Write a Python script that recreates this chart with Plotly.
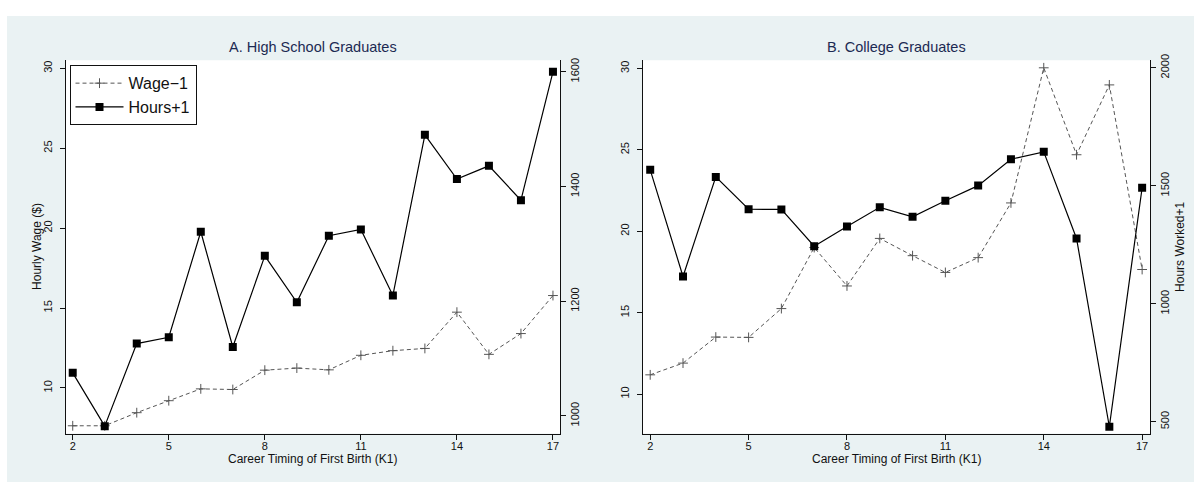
import plotly.graph_objects as go

W, H = 1194, 482

timing = [2, 3, 4, 5, 6, 7, 8, 9, 10, 11, 12, 13, 14, 15, 16, 17]

hs_wage = [7.63, 7.63, 8.45, 9.2, 9.94, 9.9, 11.11, 11.24, 11.13, 12.04, 12.33, 12.47, 14.74, 12.1, 13.4, 15.78]
hs_hours = [1075, 982, 1126, 1137, 1321, 1120, 1279, 1198, 1314, 1325, 1210, 1490, 1413, 1436, 1376, 1600]

col_wage = [11.18, 11.9, 13.5, 13.48, 15.25, 19.0, 16.64, 19.56, 18.5, 17.47, 18.38, 21.74, 30.04, 24.7, 28.99, 17.65]
col_hours = [1568, 1116, 1538, 1401, 1400, 1244, 1328, 1409, 1369, 1437, 1501, 1613, 1644, 1277, 479, 1492]

x_ticks = [2, 5, 8, 11, 14, 17]
wage_ticks = [10, 15, 20, 25, 30]
hs_hours_ticks = [1000, 1200, 1400, 1600]
col_hours_ticks = [500, 1000, 1500, 2000]

FONT = "Liberation Sans, Arial, sans-serif"
BG = "#EAF2F3"
TITLE_C = "#1C2A52"
WAGE_C = "#555555"


def px(x):
    return x / W


def py(y):
    return 1 - y / H


L1, R1 = 66, 560
L2, R2 = 643, 1150
TOP, BOT = 55, 433

fig = go.Figure()

wage_line = dict(color=WAGE_C, width=1, dash="4px,3px")
wage_marker = dict(symbol="cross-thin", size=7, line=dict(color=WAGE_C, width=1), color=WAGE_C)
hours_line = dict(color="black", width=1.2)
hours_marker = dict(symbol="square", size=8, color="black")

fig.add_trace(go.Scatter(x=timing, y=hs_wage, mode="lines+markers", name="Wage\u22121",
                         line=wage_line, marker=wage_marker, xaxis="x", yaxis="y", showlegend=True))
fig.add_trace(go.Scatter(x=timing, y=hs_hours, mode="lines+markers", name="Hours+1",
                         line=hours_line, marker=hours_marker, xaxis="x", yaxis="y2", showlegend=True))
fig.add_trace(go.Scatter(x=timing, y=col_wage, mode="lines+markers", name="Wage\u22121",
                         line=wage_line, marker=wage_marker, xaxis="x2", yaxis="y3", showlegend=False))
fig.add_trace(go.Scatter(x=timing, y=col_hours, mode="lines+markers", name="Hours+1",
                         line=hours_line, marker=hours_marker, xaxis="x2", yaxis="y4", showlegend=False))

axis_common = dict(showline=True, linecolor="#111", linewidth=1, ticks="outside", ticklen=5,
                   tickcolor="#111", tickwidth=1, showgrid=False, zeroline=False,
                   tickfont=dict(family=FONT, size=11, color="#111"), fixedrange=True)
xax = dict(axis_common, ticklabelstandoff=-3)
yax_l = dict(axis_common, ticklabelstandoff=4)
yax_r = dict(axis_common, ticklabelstandoff=0)

ydom = [py(BOT), py(TOP)]

fig.update_layout(
    width=W, height=H,
    margin=dict(l=0, r=0, t=0, b=0),
    paper_bgcolor="white",
    plot_bgcolor="white",
    font=dict(family=FONT, color="#111"),
    xaxis=dict(domain=[px(L1), px(R1)], range=[1.79, 17.22], tickvals=x_ticks, anchor="y", **xax),
    yaxis=dict(domain=ydom, range=[7.14, 30.5], tickvals=wage_ticks, tickangle=-90, anchor="x", **yax_l),
    yaxis2=dict(range=[969, 1620], tickvals=hs_hours_ticks, tickangle=-90, overlaying="y", side="right",
                anchor="x", **yax_r),
    xaxis2=dict(domain=[px(L2), px(R2)], range=[1.78, 17.24], tickvals=x_ticks, anchor="y3", **xax),
    yaxis3=dict(domain=ydom, range=[7.57, 30.5], tickvals=wage_ticks, tickangle=-90, anchor="x2", **yax_l),
    yaxis4=dict(range=[450, 2032], tickvals=col_hours_ticks, tickangle=-90, overlaying="y3", side="right",
                anchor="x2", **yax_r),
    legend=dict(x=px(69.5), y=py(60), xanchor="left", yanchor="top", bgcolor="white",
                bordercolor="#111", borderwidth=1, font=dict(family=FONT, size=16, color="#111"),
                tracegroupgap=0, itemwidth=48),
    shapes=[
        dict(type="rect", xref="paper", yref="paper", x0=px(7), x1=1.0, y0=0, y1=py(10),
             fillcolor=BG, line=dict(width=0), layer="below"),
        dict(type="rect", xref="paper", yref="paper", x0=px(L1), x1=px(R1), y0=py(BOT), y1=py(TOP),
             fillcolor="white", line=dict(width=0), layer="below"),
        dict(type="rect", xref="paper", yref="paper", x0=px(L2), x1=px(R2), y0=py(BOT), y1=py(TOP),
             fillcolor="white", line=dict(width=0), layer="below"),
    ],
    annotations=[
        dict(text="A. High School Graduates", x=px((L1 + R1) / 2), y=py(42), xref="paper", yref="paper",
             showarrow=False, font=dict(family=FONT, size=14.5, color=TITLE_C), xanchor="center", yanchor="middle"),
        dict(text="B. College Graduates", x=px((L2 + R2) / 2), y=py(42), xref="paper", yref="paper",
             showarrow=False, font=dict(family=FONT, size=14.5, color=TITLE_C), xanchor="center", yanchor="middle"),
        dict(text="Career Timing of First Birth (K1)", x=px(312.5), y=py(459), xref="paper", yref="paper",
             showarrow=False, font=dict(family=FONT, size=12, color="#111"), xanchor="center", yanchor="middle"),
        dict(text="Career Timing of First Birth (K1)", x=px(896.5), y=py(459), xref="paper", yref="paper",
             showarrow=False, font=dict(family=FONT, size=12, color="#111"), xanchor="center", yanchor="middle"),
        dict(text="Hourly Wage ($)", x=px(37), y=py(244), xref="paper", yref="paper", textangle=-90,
             showarrow=False, font=dict(family=FONT, size=12, color="#111"), xanchor="center", yanchor="middle"),
        dict(text="Hours Worked+1", x=px(1180), y=py(244), xref="paper", yref="paper", textangle=-90,
             showarrow=False, font=dict(family=FONT, size=12, color="#111"), xanchor="center", yanchor="middle"),
    ],
)

fig.write_html(
    "out.html",
    config={"displayModeBar": False},
    post_script=(
        "document.body.style.margin='0';document.body.style.padding='0';"
        "document.documentElement.style.overflow='hidden';"
        "var d=document.getElementById('{plot_id}');"
        "d.style.position='fixed';d.style.top='0px';d.style.left='0px';"
    ),
)
